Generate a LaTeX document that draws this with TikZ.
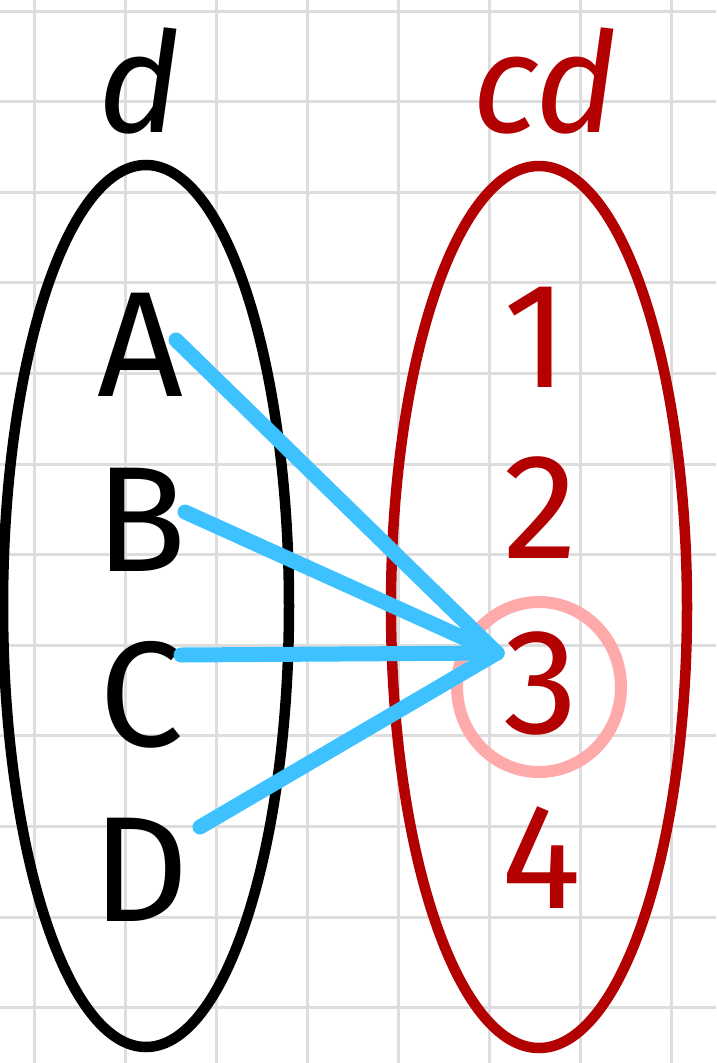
\documentclass[tikz,border=0pt]{standalone}
\usepackage{fontspec}
\setmainfont{Fira Sans}
\definecolor{gridc}{HTML}{DDDDDD}
\definecolor{darkred}{HTML}{B30000}
\definecolor{pinkc}{HTML}{FFAAAA}
\definecolor{bluec}{HTML}{3EC2FF}
\tikzset{
  gridline/.style={draw=gridc, line width=3pt},
  setellipse/.style={line width=10.5pt},
  letter/.style={font=\fontsize{150}{150}\selectfont, inner sep=0pt, text=black},
  number/.style={font=\fontsize{150}{150}\selectfont, inner sep=0pt, text=darkred},
  hand/.style={font=\fontsize{140}{140}\selectfont\itshape, inner sep=0pt, anchor=base},
  mapline/.style={draw=bluec, line width=15pt, line cap=round},
}
\begin{document}
\begin{tikzpicture}[x=1pt,y=-1pt]
\useasboundingbox (0,0) rectangle (716,1063);
\fill[white] (0,0) rectangle (716,1063);
% grid
\foreach \k in {0,...,7} { \draw[gridline] ({34+91*\k},0) -- ({34+91*\k},1063); }
\foreach \k in {0,...,11} { \draw[gridline] (0,{11+90.6*\k}) -- (716,{11+90.6*\k}); }
% set labels
\node[hand, text=black] (ld) at (140,132) {d};
\node[hand, text=darkred] (lcd) at (545,132) {cd};
% ellipses
\draw[setellipse, black] (146,606) ellipse [x radius=143, y radius=441];
\draw[setellipse, darkred] (539,607) ellipse [x radius=148, y radius=441];
% highlight circle
\draw[draw=pinkc, line width=12pt] (539,687) ellipse [x radius=82, y radius=85];
% elements
\node[letter] (A) at (140,345) {A};
\node[letter] (B) at (141,520) {B};
\node[letter] (C) at (141,695) {C};
\node[letter] (D) at (141,870) {D};
\node[number] (n1) at (536,337) {1};
\node[number] (n2) at (541,508) {2};
\node[number] (n3) at (541,683) {3};
\node[number] (n4) at (541,858) {4};
% connector ends
\coordinate (sA) at (176,340);
\coordinate (sB) at (185,512);
\coordinate (sC) at (181,655);
\coordinate (sD) at (200,827);
\coordinate (t) at (497,653);
\draw[mapline] (sA) -- (t);
\draw[mapline] (sB) -- (t);
\draw[mapline] (sC) -- (t);
\draw[mapline] (sD) -- (t);
\end{tikzpicture}
\end{document}
